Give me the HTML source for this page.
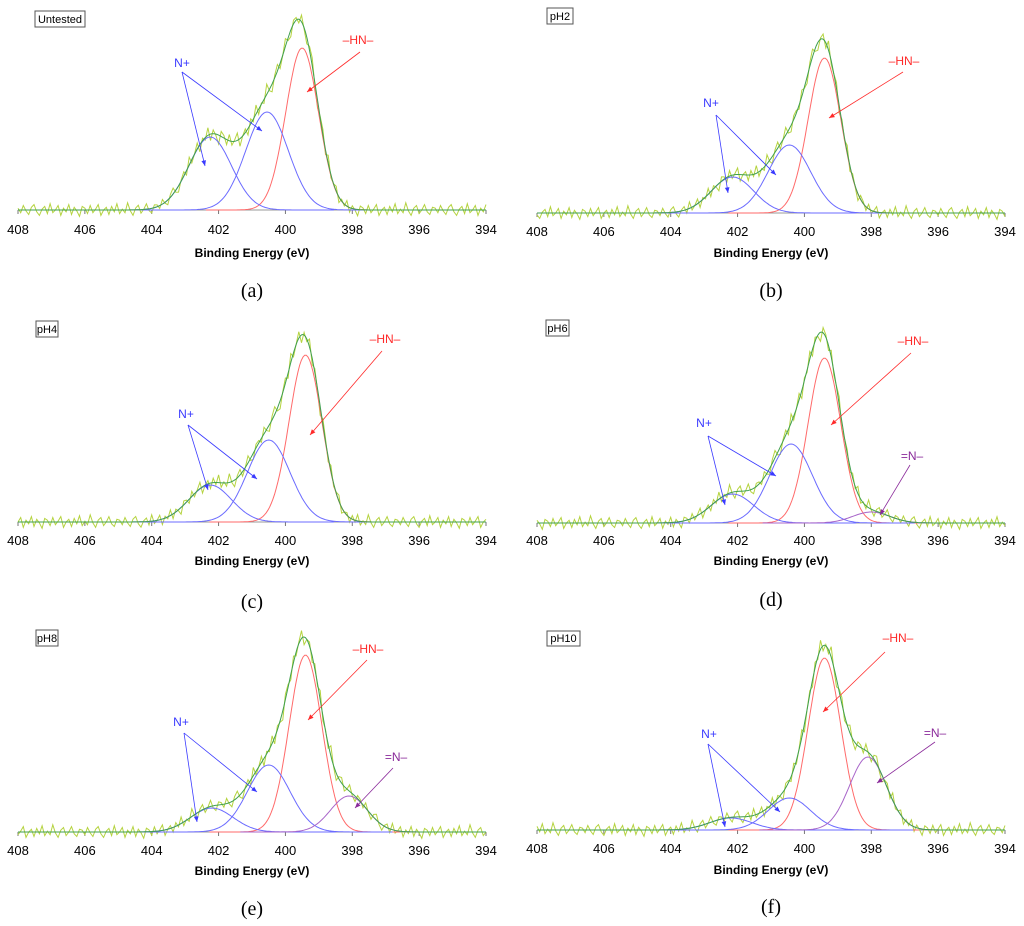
<!DOCTYPE html>
<html><head><meta charset="utf-8">
<style>
html,body{margin:0;padding:0;background:#fff;}
svg{display:block;font-family:"Liberation Sans",sans-serif;}
</style></head>
<body>
<svg id="fig" width="1024" height="926" viewBox="0 0 1024 926" xmlns="http://www.w3.org/2000/svg"></svg>
<script>
// ---- data ----
const tickLabels = [408,406,404,402,400,398,396,394];
const panelIds = ['a','b','c','d','e','f'];
const sampleTags = ['Untested','pH2','pH4','pH6','pH8','pH10'];
// peak centers (eV) per panel: [HN, N+ low, N+ high, =N-]
const centers = [
  [399.5,400.55,402.25,null],
  [399.4,400.45,402.15,null],
  [399.4,400.5,402.25,null],
  [399.4,400.4,402.15,398.0],
  [399.4,400.5,402.2,398.1],
  [399.4,400.45,402.2,398.1]
];
// peak heights (intensity units)
const heights = [
  [162,98,73,0],
  [155,68,36,0],
  [167,82,37,0],
  [165,79,29,11],
  [177,67,24,36],
  [172,32,12,73]
];
// peak FWHM (eV)
const widths = [1.15,1.5,1.5,1.3];
const peakKinds = ['HN','Nplus','Nplus','Nimine'];
// measurement jitter (intensity units), cycled along the spectrum
const jitter = [2,-3,5,-1,-5,3,6,-2,-6,1,4,-4,7,-3,0,5,-6,2,-2,6,-5,3,-1,-7,4,2,-4,5,-3,1,6,-6,0,3,-5,4,-2,7,-4,1,-3,8,-1,-6,2,5,-4,0,6,-2,-5,3];

// ---- layout (not data) ----
const layout = [
  {x0:18, x1:486, base:210, lab:230, title:257, cap:297, tag:[35,11,50,16]},
  {x0:537,x1:1005,base:213, lab:232, title:257, cap:297, tag:[547,8,26,16]},
  {x0:18, x1:486, base:522, lab:541, title:565, cap:608, tag:[36,321,22,16]},
  {x0:537,x1:1005,base:523, lab:541, title:565, cap:606, tag:[546,320,23,16]},
  {x0:18, x1:486, base:832, lab:851, title:875, cap:915, tag:[36,630,22,16]},
  {x0:537,x1:1005,base:830, lab:849, title:874, cap:913, tag:[547,631,33,15]}
];
const annot = [
  {n:[182,67,182,72,205,166,262,131], h:[358,44,360,52,307,92], i:null},
  {n:[711,107,716,115,728,193,776,175], h:[904,65,903,72,829,118], i:null},
  {n:[186,418,188,425,208,490,257,479], h:[385,343,382,351,310,435], i:null},
  {n:[704,427,708,436,725,505,776,476], h:[913,345,911,353,831,425], i:[912,460,910,465,880,515]},
  {n:[181,726,184,733,197,822,257,792], h:[368,653,367,660,308,720], i:[396,761,393,768,355,808]},
  {n:[709,738,708,744,725,827,780,812], h:[898,642,885,652,823,712], i:[935,737,935,742,877,783]}
];
const colors = {HN:'#ff6a6a', Nplus:'#6b6bff', Nimine:'#a865c9'};

const svg = document.getElementById('fig');
const NS = 'http://www.w3.org/2000/svg';
function mk(tag, attrs, parent){
  const e = document.createElementNS(NS, tag);
  for (const k in attrs) e.setAttribute(k, attrs[k]);
  (parent||svg).appendChild(e);
  return e;
}
function gauss(x,c,h,f){ const s=f/2.3548; return h*Math.exp(-((x-c)*(x-c))/(2*s*s)); }
function total(pi,e){
  let s = 0;
  for (let k = 0; k < 4; k++) if (centers[pi][k] !== null) s += gauss(e, centers[pi][k], heights[pi][k], widths[k]);
  return s;
}

panelIds.forEach((pid, pi) => {
  const L = layout[pi];
  const g = mk('g', {});
  
  
  const xs = e => L.x0 + (408 - e) * (L.x1 - L.x0) / 14;
  const ys = v => L.base - v;

  const ax = mk('line', {x1:L.x0, y1:L.base, x2:L.x1, y2:L.base, stroke:'#9a9a9a', 'stroke-width':1}, g);
  
  
  tickLabels.forEach(t => {
    const tx = xs(t);
    const tk = mk('line', {x1:tx, y1:L.base, x2:tx, y2:L.base+4, stroke:'#777', 'stroke-width':1}, g);
    
    
    const tl = mk('text', {x:tx, y:L.lab+4, 'font-size':13, 'text-anchor':'middle', fill:'#000'}, g);
    tl.textContent = t;
    
    
  });
  const at = mk('text', {x:(L.x0+L.x1)/2, y:L.title, 'font-size':12, 'font-weight':'bold', 'text-anchor':'middle'}, g);
  at.textContent = 'Binding Energy (eV)';
  
  
  const cp = mk('text', {x:(L.x0+L.x1)/2, y:L.cap, 'font-size':20, 'text-anchor':'middle', 'font-family':'"Liberation Serif",serif'}, g);
  cp.textContent = '(' + pid + ')';
  
  

  const tg = L.tag;
  const tb = mk('rect', {x:tg[0], y:tg[1], width:tg[2], height:tg[3], fill:'#fff', stroke:'#555', 'stroke-width':1}, g);
  
  
  const tt = mk('text', {x:tg[0]+tg[2]/2, y:tg[1]+tg[3]-4, 'font-size':11, 'text-anchor':'middle'}, g);
  tt.textContent = sampleTags[pi];
  
  

  const toPath = pts => pts.map((p,i)=>(i?'L':'M')+p[0].toFixed(1)+' '+p[1].toFixed(1)).join(' ');
  const env = [], meas = [];
  for (let e = 408; e >= 394 - 1e-9; e -= 0.05) env.push([xs(e), ys(total(pi,e))]);
  let idx = pi * 7;
  for (let e = 408; e >= 394 - 1e-9; e -= 0.08) {
    const s = total(pi,e);
    meas.push([xs(e), ys(s + jitter[idx % jitter.length] * (0.9 + Math.min(s,80)/200))]);
    idx++;
  }
  const mp = mk('path', {d:toPath(meas), fill:'none', stroke:'#b5d33f', 'stroke-width':1}, g);
  
  

  for (let k = 0; k < 4; k++) {
    if (centers[pi][k] === null) continue;
    const pts = [];
    const c = centers[pi][k], h = heights[pi][k], f = widths[k];
    for (let e = c + 2.5*f; e >= c - 2.5*f; e -= 0.05) pts.push([xs(e), ys(gauss(e,c,h,f))]);
    const cp2 = mk('path', {d:toPath(pts), fill:'none', stroke:colors[peakKinds[k]], 'stroke-width':1}, g);
    
    
  }
  const ep = mk('path', {d:toPath(env), fill:'none', stroke:'#3f9f4f', 'stroke-width':1}, g);
  
  

  function arrowHead(x1,y1,x2,y2,col){
    const a = Math.atan2(y2-y1,x2-x1), s=6;
    const p = [[x2,y2],[x2-s*Math.cos(a-0.4),y2-s*Math.sin(a-0.4)],[x2-s*Math.cos(a+0.4),y2-s*Math.sin(a+0.4)]];
    const ah = mk('polygon', {points:p.map(q=>q.join(',')).join(' '), fill:col}, g);
    
    
  }
  function label(arr, txt, col, name){
    const tx = mk('text', {x:arr[0], y:arr[1], 'font-size':12, fill:col, 'text-anchor':'middle'}, g);
    tx.textContent = txt;
    
    
    for (let j = 4; j + 1 < arr.length; j += 2) {
      const ln = mk('line', {x1:arr[2], y1:arr[3], x2:arr[j], y2:arr[j+1], stroke:col, 'stroke-width':0.8}, g);
      
      
      arrowHead(arr[2],arr[3],arr[j],arr[j+1],col);
    }
  }
  const A = annot[pi];
  label(A.n, 'N+', '#3a3aff', 'label-n-plus');
  label(A.h, '\u2013HN\u2013', '#ff2a2a', 'label-hn');
  if (A.i) label(A.i, '=N\u2013', '#8a2a9a', 'label-imine');
});
</script>
</body></html>
